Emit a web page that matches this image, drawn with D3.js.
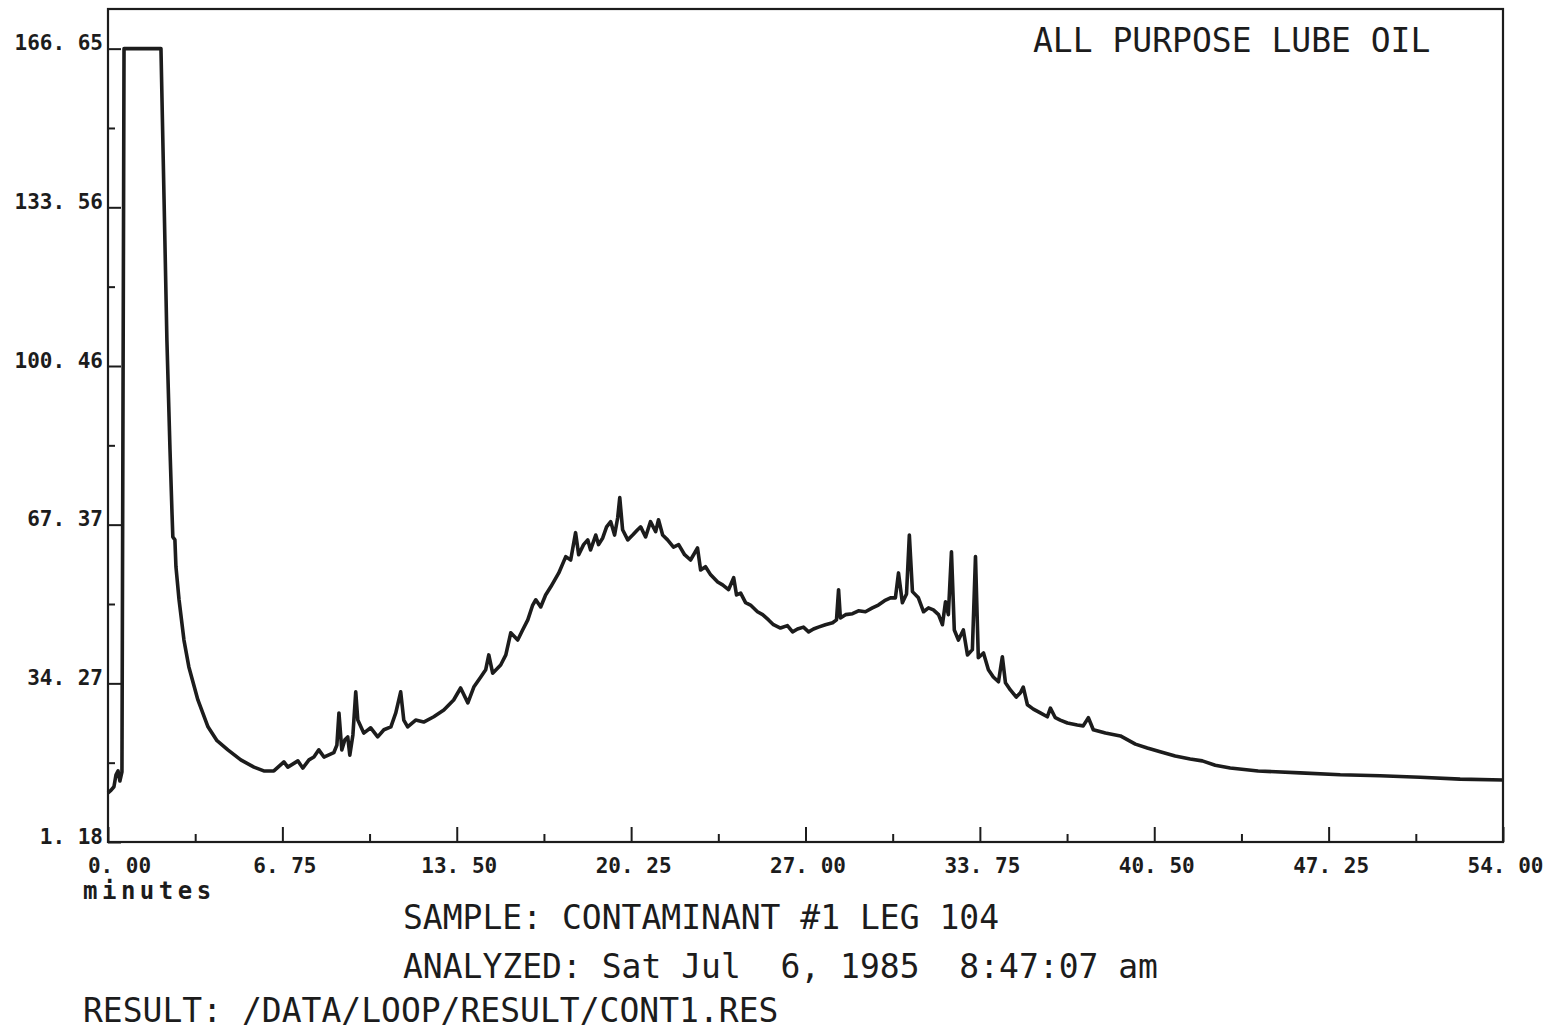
<!DOCTYPE html>
<html lang="en">
<head>
    <meta charset="UTF-8">
    <script src="https://d3js.org/d3.v7.min.js"></script>
    <style>
        body { margin: 0; background: #fff; }
        text { fill: #1c1c1c; }
    </style>
    <title>ALL PURPOSE LUBE OIL</title>
</head>
<body>
    <script type="text/javascript">
    // chromatogram trace: retention time (minutes) and detector response
    const minutes = [
        0.00, 0.12, 0.23, 0.31, 0.39, 0.46, 0.54, 0.62, 2.05, 2.17,
        2.28, 2.40, 2.48, 2.51, 2.59, 2.63, 2.75, 2.94, 3.13, 3.48,
        3.87, 4.22, 4.64, 5.14, 5.65, 6.03, 6.42, 6.81, 6.96, 7.35,
        7.54, 7.78, 7.97, 8.16, 8.36, 8.74, 8.86, 8.94, 9.05, 9.17,
        9.28, 9.36, 9.48, 9.59, 9.67, 9.90, 10.17, 10.44, 10.68, 10.95,
        11.14, 11.33, 11.45, 11.60, 11.91, 12.22, 12.61, 13.00, 13.38, 13.65,
        13.93, 14.16, 14.43, 14.62, 14.74, 14.89, 15.20, 15.40, 15.59, 15.86,
        16.05, 16.25, 16.44, 16.56, 16.75, 16.94, 17.14, 17.45, 17.72, 17.91,
        18.10, 18.22, 18.41, 18.57, 18.68, 18.88, 18.99, 19.15, 19.30, 19.46,
        19.61, 19.73, 19.81, 19.92, 20.12, 20.31, 20.50, 20.62, 20.81, 21.00,
        21.20, 21.31, 21.47, 21.66, 21.89, 22.09, 22.32, 22.55, 22.82, 22.94,
        23.13, 23.33, 23.60, 23.79, 24.02, 24.22, 24.33, 24.49, 24.68, 24.87,
        25.14, 25.34, 25.57, 25.76, 26.03, 26.30, 26.50, 26.69, 26.92, 27.12,
        27.31, 27.50, 27.77, 28.05, 28.20, 28.28, 28.35, 28.55, 28.82, 29.05,
        29.32, 29.59, 29.82, 30.06, 30.29, 30.48, 30.60, 30.75, 30.91, 31.02,
        31.14, 31.37, 31.57, 31.76, 31.95, 32.15, 32.30, 32.42, 32.53, 32.65,
        32.76, 32.92, 33.11, 33.27, 33.46, 33.58, 33.69, 33.89, 34.08, 34.27,
        34.47, 34.62, 34.74, 34.93, 35.16, 35.32, 35.43, 35.59, 35.82, 36.09,
        36.36, 36.48, 36.67, 36.86, 37.14, 37.52, 37.75, 37.95, 38.14, 38.61,
        39.19, 39.77, 40.23, 40.73, 41.31, 41.89, 42.36, 42.86, 43.44, 44.52,
        46.15, 47.70, 49.24, 50.79, 52.34, 54.00
    ];
    const response = [
        11.4, 12.0, 12.7, 15.2, 16.0, 13.9, 15.8, 166.65, 166.65, 135.2,
        105.9, 83.0, 69.4, 64.8, 64.2, 58.6, 51.7, 43.3, 37.7, 30.8,
        25.2, 22.3, 20.4, 18.3, 16.8, 16.0, 16.0, 17.9, 16.8, 18.1,
        16.6, 18.3, 18.9, 20.4, 18.9, 19.8, 21.4, 28.1, 20.4, 22.5,
        23.1, 19.3, 23.5, 32.5, 26.6, 23.9, 25.0, 23.1, 24.6, 25.2,
        28.1, 32.5, 26.6, 25.2, 26.6, 26.2, 27.3, 28.7, 30.8, 33.3,
        30.2, 33.5, 35.6, 37.1, 40.2, 36.4, 38.1, 40.2, 44.8, 43.3,
        45.4, 47.5, 50.6, 51.7, 50.2, 52.7, 54.4, 57.3, 60.7, 60.0,
        65.7, 61.1, 63.2, 64.2, 62.1, 65.2, 63.2, 64.6, 66.9, 68.0,
        65.2, 68.8, 73.0, 66.3, 64.2, 65.2, 66.3, 66.9, 64.8, 68.0,
        65.9, 68.4, 65.2, 64.2, 62.7, 63.2, 61.1, 60.0, 62.5, 57.9,
        58.6, 56.9, 55.4, 54.8, 53.8, 56.3, 52.7, 53.1, 51.1, 50.6,
        49.2, 48.6, 47.5, 46.5, 45.8, 46.3, 45.0, 45.6, 46.0, 45.0,
        45.6, 46.0, 46.5, 46.9, 47.5, 53.8, 47.9, 48.6, 48.8, 49.4,
        49.2, 50.0, 50.6, 51.5, 52.1, 52.1, 57.3, 51.1, 52.9, 65.2,
        53.4, 52.1, 49.2, 50.0, 49.6, 48.6, 46.5, 51.3, 48.6, 61.7,
        45.4, 43.3, 45.4, 40.2, 41.3, 60.7, 39.6, 40.6, 37.1, 35.6,
        34.6, 39.8, 34.4, 32.9, 31.4, 32.3, 33.5, 29.8, 28.9, 28.1,
        27.3, 29.1, 27.1, 26.6, 26.0, 25.6, 25.4, 27.1, 24.6, 23.9,
        23.3, 21.6, 20.8, 20.0, 19.1, 18.5, 18.1, 17.2, 16.6, 16.0,
        15.6, 15.2, 15.0, 14.7, 14.3, 14.1
    ];

    const yTicks = [1.18, 34.27, 67.37, 100.46, 133.56, 166.65];
    const xTicks = [0, 6.75, 13.5, 20.25, 27, 33.75, 40.5, 47.25, 54];
    const yTop = 174.92;

    const title = "ALL PURPOSE LUBE OIL";
    const xLabel = "minutes";
    const footer = [
        "SAMPLE: CONTAMINANT #1 LEG 104",
        "ANALYZED: Sat Jul  6, 1985  8:47:07 am",
        "RESULT: /DATA/LOOP/RESULT/CONT1.RES"
    ];

    const w = 1564;
    const h = 1029;
    const ink = "#1c1c1c";
    const mono = "'DejaVu Sans Mono', 'Liberation Mono', monospace";

    const x = d3.scaleLinear([0, 54], [108, 1503]);
    const y = d3.scaleLinear([yTicks[0], yTop], [842, 9]);

    // plotter style numbers: "166. 65"
    const fmt = function(d) { return d3.format(".2f")(d).replace(".", ". "); };

    const svg = d3.select("body")
        .append("svg")
        .attr("width", w)
        .attr("height", h);

    // frame
    svg.append("rect")
        .attr("x", x(0))
        .attr("y", y(yTop))
        .attr("width", x(54) - x(0))
        .attr("height", y(yTicks[0]) - y(yTop))
        .attr("fill", "none")
        .attr("stroke", ink)
        .attr("stroke-width", 2.2);

    // minor ticks halfway between the majors
    const yMinor = d3.pairs(yTicks).map(function(p) { return (p[0] + p[1]) / 2; });
    const xMinor = d3.pairs(xTicks).map(function(p) { return (p[0] + p[1]) / 2; });

    const yAxis = svg.append("g")
        .attr("transform", "translate(" + x(0) + ",0)")
        .call(d3.axisLeft(y).tickValues(yTicks).tickSizeInner(-13).tickSizeOuter(0)
            .tickPadding(5).tickFormat(fmt));
    svg.append("g")
        .attr("transform", "translate(" + x(0) + ",0)")
        .call(d3.axisLeft(y).tickValues(yMinor).tickSizeInner(-7).tickSizeOuter(0)
            .tickFormat(""));

    const xAxis = svg.append("g")
        .attr("transform", "translate(0," + y(yTicks[0]) + ")")
        .call(d3.axisBottom(x).tickValues(xTicks).tickSizeInner(-15).tickSizeOuter(0)
            .tickPadding(16).tickFormat(fmt));
    svg.append("g")
        .attr("transform", "translate(0," + y(yTicks[0]) + ")")
        .call(d3.axisBottom(x).tickValues(xMinor).tickSizeInner(-8).tickSizeOuter(0)
            .tickFormat(""));

    svg.selectAll(".domain").remove();
    svg.selectAll(".tick line").attr("stroke", ink).attr("stroke-width", 2);

    yAxis.selectAll("text")
        .attr("dy", "0.05em")
        .style("font-family", mono)
        .style("font-weight", "bold")
        .style("font-size", "21px")
        .style("fill", ink);

    xAxis.selectAll("text")
        .attr("dx", function(d, i) { return i === 0 ? 11 : 2; })
        .style("font-family", mono)
        .style("font-weight", "bold")
        .style("font-size", "21px")
        .style("fill", ink);

    // trace
    const line = d3.line()
        .x(function(d) { return x(d[0]); })
        .y(function(d) { return y(d[1]); });

    svg.append("path")
        .datum(d3.zip(minutes, response))
        .attr("d", line)
        .attr("fill", "none")
        .attr("stroke", ink)
        .attr("stroke-width", 3.6)
        .attr("stroke-linejoin", "round");

    // texts
    svg.append("text")
        .text(title)
        .attr("x", 1033)
        .attr("y", 52)
        .attr("font-family", mono)
        .attr("font-size", "33px");

    svg.append("text")
        .text(xLabel)
        .attr("x", 83)
        .attr("y", 899)
        .attr("font-family", mono)
        .attr("font-weight", "bold")
        .attr("font-size", "24px")
        .attr("letter-spacing", "4.5px");

    svg.selectAll("text.footer")
        .data(footer)
        .enter()
        .append("text")
        .attr("class", "footer")
        .text(function(d) { return d; })
        .attr("x", function(d, i) { return i === 2 ? 83 : 403; })
        .attr("y", function(d, i) { return [929, 978, 1022][i]; })
        .attr("font-family", mono)
        .attr("font-size", "33px")
        .style("white-space", "pre");
    </script>
</body>
</html>
